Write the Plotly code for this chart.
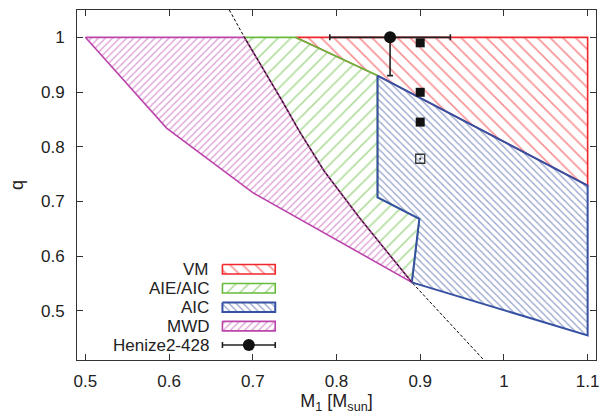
import plotly.graph_objects as go

# ---------------- data ----------------
vm_m = [0.751, 1.1, 1.1, 0.849, 0.751]
vm_q = [1.0, 1.0, 0.729, 0.93, 1.0]

aie_m = [0.69, 0.751, 0.849, 0.849, 0.899, 0.89, 0.827, 0.785, 0.755, 0.735, 0.69]
aie_q = [1.0, 1.0, 0.93, 0.7075, 0.668, 0.552, 0.671, 0.756, 0.83, 0.884, 1.0]

aic_m = [0.849, 1.1, 1.1, 0.89, 0.899, 0.849, 0.849]
aic_q = [0.93, 0.729, 0.455, 0.552, 0.668, 0.7075, 0.93]

mwd_m = [0.5, 0.69, 0.735, 0.755, 0.785, 0.827, 0.89, 0.7, 0.597, 0.5]
mwd_q = [1.0, 1.0, 0.884, 0.83, 0.756, 0.671, 0.552, 0.716, 0.834, 1.0]

lim_m = [0.672, 0.69, 0.735, 0.755, 0.785, 0.827, 0.89, 0.976]
lim_q = [1.05, 1.0, 0.884, 0.83, 0.756, 0.671, 0.552, 0.41]

henize_m = [0.864]
henize_q = [1.0]
henize_merr = [0.072]
henize_qerr_minus = [0.07]

sq_m = [0.9, 0.9, 0.9]
sq_q = [0.99, 0.8995, 0.845]
osq_m = [0.9]
osq_q = [0.778]

x_ticks = [0.5, 0.6, 0.7, 0.8, 0.9, 1.0, 1.1]
x_ticktext = ["0.5", "0.6", "0.7", "0.8", "0.9", "1", "1.1"]
y_ticks = [0.5, 0.6, 0.7, 0.8, 0.9, 1.0]
y_ticktext = ["0.5", "0.6", "0.7", "0.8", "0.9", "1"]

legend_names = ["VM", "AIE/AIC", "AIC", "MWD", "Henize2-428"]

# ---------------- styles ----------------
RED = "#f0262b"
GREEN = "#66bb3c"
BLUE = "#3650a2"
MAG = "#bb45ab"
FONT = "Liberation Sans, Arial, sans-serif"

styles = {
    "VM": dict(color=RED, shape="\\", size=9, solidity=0.18, lw=1.6),
    "AIE/AIC": dict(color=GREEN, shape="/", size=9, solidity=0.18, lw=1.6),
    "AIC": dict(color=BLUE, shape="\\", size=5, solidity=0.28, lw=2.0),
    "MWD": dict(color=MAG, shape="/", size=5, solidity=0.28, lw=1.6),
}

fig = go.Figure()


def region(mx, my, name, xa="x", ya="y"):
    s = styles[name]
    fig.add_trace(go.Scatter(
        x=mx, y=my, mode="lines", fill="toself",
        fillcolor="rgba(255,255,255,0)",
        fillpattern=dict(shape=s["shape"], size=s["size"], solidity=s["solidity"],
                         fgcolor=s["color"], bgcolor="rgba(255,255,255,0)"),
        line=dict(color=s["color"], width=s["lw"]),
        xaxis=xa, yaxis=ya, showlegend=False, hoverinfo="skip"))


region(vm_m, vm_q, "VM")
region(aie_m, aie_q, "AIE/AIC")
region(aic_m, aic_q, "AIC")
region(mwd_m, mwd_q, "MWD")

# dashed limit curve
fig.add_trace(go.Scatter(x=lim_m, y=lim_q, mode="lines",
                         line=dict(color="black", width=1, dash="3px,2px"),
                         showlegend=False, hoverinfo="skip"))

# Henize2-428
fig.add_trace(go.Scatter(
    x=henize_m, y=henize_q, mode="markers",
    marker=dict(symbol="circle", size=12, color="#111"),
    error_x=dict(type="data", array=henize_merr, color="#222", thickness=1.6, width=3),
    error_y=dict(type="data", symmetric=False, array=[0], arrayminus=henize_qerr_minus,
                 color="#222", thickness=1.6, width=3),
    showlegend=False, cliponaxis=False))

# squares
fig.add_trace(go.Scatter(x=sq_m, y=sq_q, mode="markers",
                         marker=dict(symbol="square", size=9, color="#111"),
                         showlegend=False))
fig.add_trace(go.Scatter(x=osq_m, y=osq_q, mode="markers",
                         marker=dict(symbol="square-open-dot", size=9, color="#333",
                                     line=dict(width=1.3, color="#444")),
                         showlegend=False))

# ---------------- hand-drawn legend (inset axes in pixel units) ----------------
L, R, T, B = 77, 598, 9, 360
box_x0, box_x1 = 223, 276
box_rows = [269, 288, 307, 326]
box_h = 9.5
text_x = 212
for name, yc in zip(legend_names[:4], box_rows):
    region([box_x0, box_x1, box_x1, box_x0, box_x0],
           [yc - box_h / 2, yc - box_h / 2, yc + box_h / 2, yc + box_h / 2, yc - box_h / 2],
           name, xa="x2", ya="y2")
hen_y = 345
fig.add_trace(go.Scatter(
    x=[(box_x0 + box_x1) / 2], y=[hen_y], mode="markers",
    marker=dict(symbol="circle", size=12, color="#111"),
    error_x=dict(type="data", array=[(box_x1 - box_x0) / 2], color="#222", thickness=1.6, width=3),
    xaxis="x2", yaxis="y2", showlegend=False))

for name, yc in zip(legend_names, box_rows + [hen_y]):
    fig.add_annotation(x=text_x, y=yc, xref="x2", yref="y2", text=name,
                       showarrow=False, xanchor="right", yanchor="middle",
                       font=dict(family=FONT, size=17, color="#222"))

axis_common = dict(showline=True, linecolor="#333", linewidth=1, mirror="allticks",
                   ticks="inside", ticklen=6, tickcolor="#333", showgrid=False,
                   zeroline=False, tickfont=dict(family=FONT, size=17, color="#222"))

fig.update_layout(
    width=608, height=418,
    margin=dict(l=L, r=608 - R, t=T, b=418 - B),
    paper_bgcolor="white", plot_bgcolor="white",
    xaxis=dict(range=[0.49, 1.11], tickvals=x_ticks, ticktext=x_ticktext,
               title=dict(text="M<sub>1</sub> [M<sub>sun</sub>]", standoff=0,
                          font=dict(family=FONT, size=18, color="#222")),
               ticklabelstandoff=6, **axis_common),
    yaxis=dict(range=[0.41, 1.05], tickvals=y_ticks, ticktext=y_ticktext,
               title=dict(text="q", standoff=12, font=dict(family=FONT, size=18, color="#222")),
               ticklabelstandoff=8, **axis_common),
    xaxis2=dict(range=[L, R], overlaying="x", visible=False, fixedrange=True),
    yaxis2=dict(range=[B, T], overlaying="y", visible=False, fixedrange=True),
    showlegend=False,
)

fig.write_html("out.html")
